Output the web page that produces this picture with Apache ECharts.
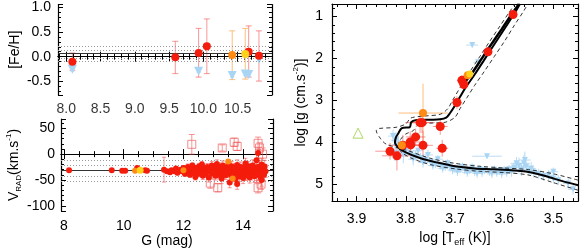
<!DOCTYPE html>
<html><head><meta charset="utf-8">
<script src="https://cdn.jsdelivr.net/npm/echarts@6/dist/echarts.min.js"></script>
<style>html,body{margin:0;padding:0;background:#fff}#c{width:581px;height:252px}</style>
</head><body><div id="c"></div>
<script>
// ---------- Top-left: [Fe/H] vs G  ([G, FeH, upper, lower])
const fehRed = [[8.09,-0.10,0.075,-0.27],[9.59,-0.01,0.31,-0.34],[9.93,0.075,0.57,-0.41],[10.05,0.21,0.76,-0.34],[10.66,0.10,0.62,-0.41],[10.81,0.02,0.52,-0.49]];
const fehOrange = [[10.42,0.034,0.52,-0.46]];
const fehYellow = [[10.61,0.055,0.57,-0.45]];
const fehBlue = [[8.09,-0.25,-0.21,-0.29],[9.93,-0.29,-0.26,-0.32],[10.42,-0.38,-0.35,-0.41],[10.61,-0.35,-0.32,-0.38],[10.66,-0.36,-0.33,-0.39],[10.81,-0.05,-0.02,-0.08]];
const fehMean = 0.055;
const fehDotted = [0.21, 0.135, -0.025, -0.10];
const fehTicks = [8.0, 8.5, 9.0, 9.5, 10.0, 10.5];

// ---------- Bottom-left: V_RAD vs G  ([G, V, err])
const vRed = [[8.17,-31,1],[9.6,-31,1],[9.95,-32,1],[10.05,-32,1],[10.45,-27,2],[10.72,-31,1],[10.78,-32,1],
[11.35,-30,24],[11.45,-33,3],[11.55,-35,4],[11.6,-31,3],[11.7,-33,4],[11.75,-28,3],[11.8,-36,4],[11.9,-30,4],[11.95,-33,3],[12.0,-27,4],[12.05,-38,5],[12.1,-31,5],[12.15,-25,6],[12.2,-34,5],[12.22,-40,5],[12.25,-29,6],[12.3,-22,5],[12.32,-36,6],[12.35,-31,5],[12.4,-44,6],[12.42,-27,5],[12.45,-33,7],[12.5,-38,6],[12.52,-24,6],[12.55,-30,5],[12.6,-35,7],[12.62,-20,6],[12.65,-42,7],[12.7,-28,6],[12.72,-33,5],[12.75,-37,8],[12.8,-25,7],[12.82,-31,6],[12.85,-45,9],[12.9,-29,7],[12.92,-35,6],[12.95,-22,8],[13.0,-38,8],[13.02,-31,7],[13.05,-27,6],[13.08,-42,8],[13.1,-33,7],[13.12,-19,8],[13.15,-36,9],[13.18,-29,7],[13.2,-40,8],[13.22,-25,8],[13.25,-32,7],[13.28,-47,10],[13.3,-30,8],[13.32,-22,9],[13.35,-37,8],[13.38,-28,7],[13.4,-34,9],[13.42,-41,8],[13.45,-26,8],[13.48,-31,9],[13.5,-36,8],[13.52,-20,9],[13.55,-55,10],[13.55,-29,8],[13.58,-39,9],[13.6,-33,8],[13.62,-24,10],[13.65,-44,9],[13.68,-30,8],[13.7,-36,10],[13.72,-27,9],[13.75,-48,10],[13.78,-32,8],[13.8,-58,10],[13.8,-21,10],[13.82,-38,9],[13.85,-29,9],[13.88,-43,10],[13.9,-34,8],[13.92,-25,10],[13.95,-39,9],[13.98,-31,9],[14.0,-46,11],[14.02,-28,9],[14.05,-35,10],[14.08,-18,10],[14.1,-41,10],[14.12,-30,9],[14.15,-37,11],[14.18,-24,10],[14.2,-33,10],[14.22,-45,11],[14.25,-28,10],[14.28,-39,11],[14.3,-31,10],[14.32,-22,11],[14.35,-36,10],[14.38,-43,12],[14.4,-27,10],[14.42,-34,11],[14.45,-12,12],[14.45,-40,11],[14.48,-30,10],[14.5,2,10],[14.5,-25,11],[14.52,-37,12],[14.55,-33,11],[14.58,-44,12],[14.6,-28,11],[14.62,-50,12],[14.62,-20,12],[14.65,-35,12],[14.68,-31,11],[14.7,-40,12],[14.72,-24,12],[14.75,-33,12]];
const vOrange = [[10.38,-32,1],[13.5,-14,4],[13.65,-47,4],[12.0,-31,3]];
const vYellow = [[10.55,-31,1]];
const vSquares = [[12.28,19,19],[13.3,12,6],[13.7,23,8],[13.8,15,8],[14.5,21,12],[14.55,12,10],[14.65,0,12],[12.9,-56,10],[13.15,-65,8],[14.5,-65,10],[14.6,-58,10]];
const vMean = -32;
const vDotted = [-12, -22, -42, -52];

// ---------- Right: log g vs log Teff  ([logT, logg, dT, dg])
const hrRed = [[3.582,0.95,0.008,0.08],[3.633,1.84,0.008,0.1],[3.686,2.52,0.01,0.12],[3.682,2.62,0.01,0.12],[3.696,3.05,0.01,0.15],[3.771,3.53,0.03,0.25],[3.832,4.21,0.03,0.2],[3.818,4.32,0.03,0.35],[3.806,4.07,0.03,0.25],[3.791,3.99,0.025,0.25],[3.78,3.87,0.02,0.2],[3.79,4.06,0.02,0.2],[3.767,3.53,0.02,0.25],[3.765,4.07,0.02,0.35],[3.73,3.62,0.015,0.2],[3.726,4.14,0.012,0.2]];
const hrOrange = [[3.765,3.30,0.05,0.7],[3.808,4.07,0.01,0.1],[3.674,2.40,0.01,0.1]];
const hrYellow = [[3.67,2.37,0.006,0.06]];
const hrBlue = [[3.665,1.68,0.012,0.05],[3.653,2.09,0.01,0.08],[3.826,3.85,0.01,0.15],[3.82,3.95,0.01,0.2],[3.815,4.05,0.012,0.2],[3.81,4.15,0.012,0.2],[3.822,4.25,0.012,0.2],[3.805,4.3,0.012,0.2],[3.8,4.2,0.01,0.15],[3.795,4.1,0.01,0.2],[3.79,4.27,0.01,0.15],[3.785,4.4,0.01,0.15],[3.78,4.32,0.01,0.12],[3.775,4.2,0.01,0.15],[3.77,4.37,0.01,0.12],[3.765,4.48,0.01,0.12],[3.76,4.42,0.01,0.1],[3.755,4.3,0.01,0.12],[3.75,4.47,0.01,0.1],[3.745,4.55,0.01,0.1],[3.74,4.52,0.01,0.1],[3.735,4.4,0.01,0.1],[3.73,4.55,0.01,0.1],[3.725,4.62,0.01,0.1],[3.72,4.58,0.01,0.1],[3.715,4.5,0.01,0.1],[3.71,4.6,0.01,0.1],[3.705,4.66,0.01,0.1],[3.7,4.62,0.01,0.1],[3.695,4.7,0.01,0.1],[3.69,4.64,0.01,0.1],[3.685,4.58,0.01,0.1],[3.68,4.66,0.01,0.1],[3.675,4.72,0.01,0.1],[3.67,4.66,0.01,0.1],[3.665,4.6,0.01,0.1],[3.66,4.7,0.01,0.1],[3.655,4.74,0.01,0.1],[3.65,4.64,0.01,0.1],[3.645,4.72,0.01,0.1],[3.64,4.66,0.01,0.1],[3.635,4.33,0.03,0.05],[3.63,4.7,0.01,0.1],[3.625,4.75,0.01,0.1],[3.62,4.65,0.01,0.1],[3.615,4.72,0.01,0.1],[3.61,4.68,0.01,0.1],[3.605,4.75,0.01,0.1],[3.6,4.66,0.01,0.1],[3.595,4.72,0.01,0.1],[3.59,4.64,0.01,0.1],[3.585,4.7,0.01,0.12],[3.58,4.6,0.01,0.12],[3.575,4.5,0.012,0.15],[3.57,4.56,0.012,0.2],[3.565,4.65,0.012,0.15],[3.56,4.5,0.012,0.2],[3.558,4.42,0.012,0.2],[3.555,4.58,0.01,0.12],[3.55,4.68,0.01,0.12],[3.545,4.62,0.01,0.15],[3.54,4.72,0.01,0.12],[3.53,4.75,0.01,0.12],[3.52,4.8,0.01,0.12],[3.51,4.78,0.01,0.12],[3.5,4.86,0.01,0.12],[3.49,4.9,0.01,0.12],[3.5,4.7,0.01,0.1],[3.47,4.98,0.01,0.12],[3.46,5.12,0.01,0.12]];
const hrGreen = [[3.897,3.78]];
const isoMain = [[3.45,5.02],[3.48,4.93],[3.5,4.86],[3.52,4.79],[3.54,4.73],[3.56,4.69],[3.58,4.67],[3.62,4.64],[3.66,4.62],[3.7,4.57],[3.74,4.47],[3.77,4.38],[3.8,4.24],[3.815,4.12],[3.822,4.0],[3.82,3.88],[3.815,3.78],[3.81,3.68],[3.805,3.65],[3.792,3.64],[3.789,3.52],[3.78,3.47],[3.75,3.46],[3.73,3.45],[3.718,3.41],[3.71,3.3],[3.7,3.12],[3.69,2.92],[3.68,2.72],[3.66,2.38],[3.64,2.02],[3.62,1.66],[3.6,1.3],[3.58,0.94],[3.568,0.7]];
const isoClump = [[3.684,2.62],[3.665,2.34],[3.645,1.99],[3.625,1.64],[3.605,1.3],[3.585,0.95],[3.57,0.7]];
const isoDashA = [[3.45,4.9],[3.5,4.75],[3.55,4.65],[3.6,4.61],[3.65,4.57],[3.7,4.5],[3.75,4.38],[3.8,4.18],[3.84,4.04],[3.852,3.9],[3.86,3.72],[3.855,3.67],[3.82,3.64],[3.8,3.56],[3.79,3.42],[3.76,3.37],[3.73,3.33],[3.715,3.2],[3.705,3.0],[3.69,2.7],[3.67,2.32],[3.65,1.96],[3.63,1.6],[3.61,1.25],[3.59,0.9],[3.578,0.7]];
const isoDashB = [[3.45,5.14],[3.5,4.96],[3.55,4.78],[3.6,4.72],[3.65,4.69],[3.7,4.63],[3.75,4.53],[3.79,4.37],[3.81,4.22],[3.815,4.07],[3.81,3.92],[3.8,3.8],[3.785,3.72],[3.775,3.58],[3.75,3.54],[3.72,3.52],[3.7,3.4],[3.69,3.2],[3.675,2.92],[3.66,2.64],[3.64,2.3],[3.62,1.95],[3.6,1.6],[3.58,1.22],[3.56,0.86],[3.552,0.7]];

// ---------------------------------------------------------------
const RED='#f41c0c', ERRRED='rgba(245,80,80,0.6)', ORANGE='#ff8a14', ERRORANGE='rgba(255,170,80,0.75)', YELLOW='#ffd21c', BLUE='#a9d5f5', ERRBLUE='rgba(160,205,240,0.7)';
const FONT='Liberation Sans';
const FEH_MIN=-0.77, FEH_MAX=1.05, G1_MIN=7.88, G1_MAX=11.0;

function errSeries(xi, yi, data, color, capW, lw) {
  return {
    type:'custom', xAxisIndex:xi, yAxisIndex:yi, silent:true, z:2,
    data:data, encode:{x:0,y:1},
    renderItem:function(params, api){
      const x=api.value(0), y=api.value(1);
      const xl=api.value(2), xh=api.value(3), yl=api.value(4), yh=api.value(5);
      const st={stroke:color, lineWidth:lw};
      const ch=[];
      if (yl!==yh) {
        const a=api.coord([x,yl]), b=api.coord([x,yh]);
        ch.push({type:'line',shape:{x1:a[0],y1:a[1],x2:b[0],y2:b[1]},style:st});
        if (capW>0) {
          ch.push({type:'line',shape:{x1:a[0]-capW,y1:a[1],x2:a[0]+capW,y2:a[1]},style:st});
          ch.push({type:'line',shape:{x1:b[0]-capW,y1:b[1],x2:b[0]+capW,y2:b[1]},style:st});
        }
      }
      if (xl!==xh) {
        const a=api.coord([xl,y]), b=api.coord([xh,y]);
        ch.push({type:'line',shape:{x1:a[0],y1:a[1],x2:b[0],y2:b[1]},style:st});
      }
      return {type:'group',children:ch};
    }
  };
}
function scat(xi, yi, data, color, size, symbol, z, extra) {
  return Object.assign({type:'scatter', xAxisIndex:xi, yAxisIndex:yi, data:data.map(d=>[d[0],d[1]]), symbol:symbol||'circle', symbolSize:size, itemStyle:{color:color, opacity:1}, z:z||3, silent:true}, extra||{});
}
function line(xi, yi, data, color, w, type, z) {
  return {type:'line', xAxisIndex:xi, yAxisIndex:yi, data:data, showSymbol:false, symbol:'none', smooth:0.3, lineStyle:{color:color,width:w,type:type||'solid'}, z:z||4, silent:true};
}
function refLines(xi, yi, mean, dotted) {
  return {type:'line', xAxisIndex:xi, yAxisIndex:yi, data:[], silent:true, z:1,
    markLine:{symbol:'none', silent:true, label:{show:false}, animation:false,
      data:[{yAxis:mean, lineStyle:{color:'#333',width:1.2,type:'solid'}}].concat(dotted.map(v=>({yAxis:v, lineStyle:{color:'#999',width:1,type:[1,2]}})))}};
}

const fehErr = a => a.map(d=>[d[0],d[1],0,0,d[3],d[2]]);
const vErr = a => a.map(d=>[d[0],d[1],0,0,d[1]-d[2],d[1]+d[2]]);
const hrErr = a => a.map(d=>[d[0],d[1],d[0]-d[2],d[0]+d[2],d[1]-d[3],d[1]+d[3]]);

const axLine={show:true,lineStyle:{color:'#000',width:1.2}};
const lab = (o)=>Object.assign({show:true,fontFamily:FONT,fontSize:14,color:'#000',margin:6,showMinLabel:false,showMaxLabel:false,hideOverlap:false}, o||{});
const noLab = {show:false, inside:true, fontSize:6};
function mkX(gi, min, max, split, minor, opts) {
  const base = {type:'value', gridIndex:gi, min:min, max:max, splitNumber:split,
    axisLine:axLine, axisTick:{show:true,inside:true,length:5,lineStyle:{color:'#000',width:1}},
    minorTick:{show:true,splitNumber:minor,length:3,lineStyle:{color:'#000',width:1}},
    splitLine:{show:false}, minorSplitLine:{show:false},
    axisLabel:lab()};
  return Object.assign(base, opts||{});
}
const fmt1 = v=>(Math.round(v*10)/10).toFixed(1);

const chart = echarts.init(document.getElementById('c'), null, {renderer:'canvas'});
const option = {
  animation:false,
  backgroundColor:'#fff',
  grid:[
    {left:58, top:4, width:214, height:91},
    {left:61, top:119, width:212, height:92},
    {left:332, top:4, width:246, height:206}
  ],
  xAxis:[
    mkX(0,G1_MIN,G1_MAX,6,5,{axisLabel:{show:false}}),
    mkX(0,G1_MIN,G1_MAX,6,5,{position:'top',axisLabel:noLab}),
    mkX(1,7.9,15.0,4,4,{name:'G (mag)',nameLocation:'middle',nameGap:22,nameTextStyle:{fontFamily:FONT,fontSize:14,color:'#000'},axisLabel:lab({margin:8})}),
    mkX(1,7.9,15.0,4,4,{position:'top',axisLabel:noLab}),
    mkX(2,3.45,3.95,5,5,{inverse:true,name:'{a|log [T}{sub|eff}{a| (K)]}',nameLocation:'middle',nameGap:22,nameTextStyle:{rich:{a:{fontFamily:FONT,fontSize:14,color:'#000',lineHeight:18},sub:{fontFamily:FONT,fontSize:9,color:'#000',lineHeight:18,verticalAlign:'bottom',padding:[6,0,0,0]}}},axisLabel:lab({margin:11,formatter:fmt1})}),
    mkX(2,3.45,3.95,5,5,{inverse:true,position:'top',axisLabel:noLab})
  ],
  yAxis:[
    mkX(0,FEH_MIN,FEH_MAX,4,5,{name:'[Fe/H]',nameLocation:'middle',nameGap:36,nameTextStyle:{fontFamily:FONT,fontSize:14,color:'#000'},axisLabel:lab({margin:7,formatter:fmt1})}),
    mkX(0,FEH_MIN,FEH_MAX,4,5,{position:'right',axisLabel:noLab}),
    mkX(1,-110,68,4,5,{name:'{a|V}{sub|RAD}{a|(km.s}{sup|-1}{a|)}',nameLocation:'middle',nameGap:38,nameTextStyle:{rich:{a:{fontFamily:FONT,fontSize:14,color:'#000',lineHeight:18},sub:{fontFamily:FONT,fontSize:8,color:'#000',lineHeight:18,verticalAlign:'bottom'},sup:{fontFamily:FONT,fontSize:8,color:'#000',lineHeight:18,verticalAlign:'top'}}},axisLabel:lab({margin:6})}),
    mkX(1,-110,68,4,5,{position:'right',axisLabel:noLab}),
    mkX(2,0.7,5.4,5,5,{inverse:true,name:'{a|log [g (cm.s}{sup|-2}{a|)]}',nameLocation:'middle',nameGap:22,nameTextStyle:{rich:{a:{fontFamily:FONT,fontSize:14,color:'#000',lineHeight:18},sup:{fontFamily:FONT,fontSize:8,color:'#000',lineHeight:18,verticalAlign:'top'}}},axisLabel:lab({margin:9})}),
    mkX(2,0.7,5.4,5,5,{inverse:true,position:'right',axisLabel:noLab})
  ],
  series:[
    // tick labels of the top-left G axis, anchored on the axis bottom through the scale
    {type:'scatter', xAxisIndex:0, yAxisIndex:0, clip:false, silent:true, z:10, symbolSize:0,
     data:fehTicks.map(v=>[v, FEH_MIN]),
     label:{show:true, position:'bottom', distance:7, fontFamily:FONT, fontSize:14, color:'#000', formatter:p=>fmt1(p.value[0])},
     labelLayout:{hideOverlap:false}},
    refLines(0,0,fehMean,fehDotted),
    errSeries(0,0,fehErr(fehRed),ERRRED,3,1),
    errSeries(0,0,fehErr(fehOrange),ERRORANGE,3,1),
    errSeries(0,0,fehErr(fehYellow),ERRORANGE,3,1),
    errSeries(0,0,fehBlue.map(d=>[d[0],d[1],0,0,d[3],d[2]]),ERRBLUE,2,1),
    scat(0,0,fehBlue,BLUE,9,'triangle',3,{symbolRotate:180}),
    scat(0,0,fehRed,RED,8,'circle',5),
    scat(0,0,fehOrange,ORANGE,8,'circle',5),
    scat(0,0,fehYellow,YELLOW,8,'circle',6),
    refLines(2,2,vMean,vDotted),
    errSeries(2,2,vErr(vSquares),ERRRED,3,1),
    scat(2,2,vSquares,'rgba(0,0,0,0)',8,'rect',3,{itemStyle:{color:'rgba(0,0,0,0)',borderColor:'rgba(240,90,90,0.85)',borderWidth:1}}),
    errSeries(2,2,vErr(vRed),ERRRED,2,1),
    scat(2,2,vRed,RED,6,'circle',5),
    scat(2,2,vOrange,ORANGE,6,'circle',6),
    scat(2,2,vYellow,YELLOW,7,'circle',7),
    errSeries(4,4,hrErr(hrBlue),ERRBLUE,0,1),
    scat(4,4,hrBlue,BLUE,6,'triangle',3,{symbolRotate:180}),
    line(4,4,isoDashA,'#333',1,[4,3],4),
    line(4,4,isoDashB,'#333',1,[4,3],4),
    line(4,4,isoClump,'#000',2.5,'solid',4),
    line(4,4,isoMain,'#000',2,'solid',4),
    errSeries(4,4,hrErr(hrOrange),ERRORANGE,0,1),
    errSeries(4,4,hrErr(hrRed),ERRRED,0,1),
    scat(4,4,hrRed,RED,9,'circle',5),
    scat(4,4,hrOrange,ORANGE,8,'circle',6),
    scat(4,4,hrYellow,YELLOW,7,'circle',7),
    scat(4,4,hrGreen,'rgba(0,0,0,0)',10,'triangle',6,{itemStyle:{color:'rgba(0,0,0,0)',borderColor:'#9acd40',borderWidth:1}})
  ]
};
chart.setOption(option);
</script></body></html>
